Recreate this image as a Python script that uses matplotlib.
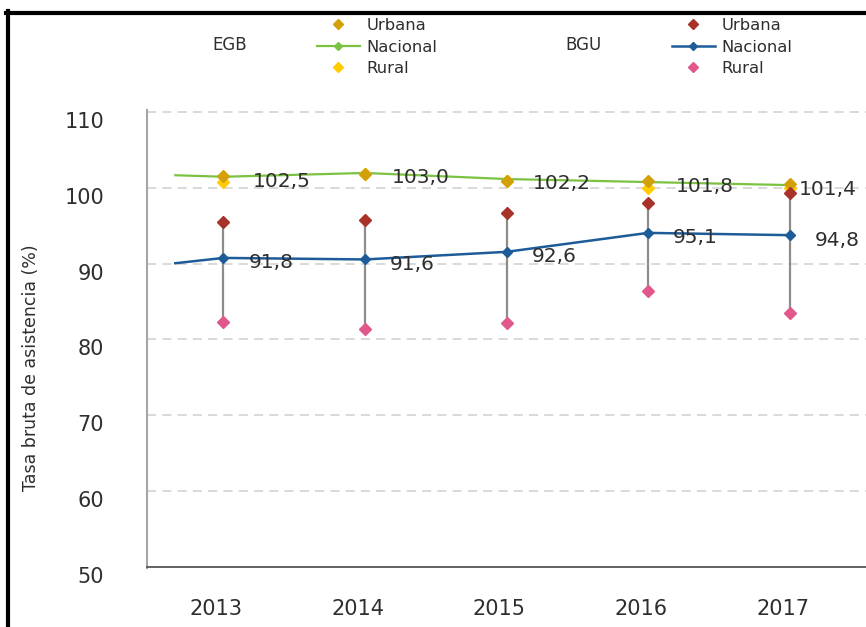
import matplotlib
matplotlib.use("Agg")
import matplotlib.pyplot as plt
import matplotlib.transforms as mtransforms
from matplotlib.lines import Line2D

# --- data --------------------------------------------------------------
years = [2013, 2014, 2015, 2016, 2017]

egb_nacional = [102.5, 103.0, 102.2, 101.8, 101.4]
egb_urbana = [102.6, 102.9, 102.0, 102.0, 101.6]
egb_rural = [101.8, 102.9, 102.0, 101.0, 101.0]

bgu_nacional = [91.8, 91.6, 92.6, 95.1, 94.8]
bgu_urbana = [96.5, 96.8, 97.7, 99.0, 100.3]
bgu_rural = [83.4, 82.4, 83.2, 87.4, 84.5]

# the national lines come in from the left (previous period)
lead_in_year = 2012.66
egb_nacional_prev = 102.7
bgu_nacional_prev = 91.1

egb_labels = ["102,5", "103,0", "102,2", "101,8", "101,4"]
bgu_labels = ["91,8", "91,6", "92,6", "95,1", "94,8"]

y_ticks = [50, 60, 70, 80, 90, 100, 110]

# --- styles ------------------------------------------------------------
c_egb_nac = "#7cc242"
c_egb_urb = "#d4a00a"
c_egb_rur = "#ffcc00"
c_bgu_nac = "#1d5c99"
c_bgu_urb = "#a8322a"
c_bgu_rur = "#e0588c"
c_range = "#8c8c8c"
c_text = "#2e2e2e"

plt.rcParams["font.family"] = ["DejaVu Sans"]

W, H, DPI = 866, 627, 100
fig = plt.figure(figsize=(W / DPI, H / DPI), dpi=DPI)
ax = fig.add_axes([147 / W, 1 - 575 / H, 719 / W, 465 / H])

ax.set_xlim(2012.46, 2017.54)
ax.set_ylim(50, 111.3)


def px(dx, dy):
    return mtransforms.ScaledTranslation(dx / DPI, dy / DPI, fig.dpi_scale_trans)


# dashed grid, drawn a few pixels above the tick values as in the source
grid_trans = ax.get_yaxis_transform() + px(0, 8)
for v in y_ticks[1:]:
    ax.add_line(Line2D([0, 1], [v, v], transform=grid_trans, color="#cfcfcf",
                       lw=1.1, ls=(0, (6, 4)), zorder=1, clip_on=False))

# EGB
ax.plot(years, egb_rural, ls="none", marker="D", ms=6.5, color=c_egb_rur, zorder=4)
ax.plot([lead_in_year] + years, [egb_nacional_prev] + egb_nacional,
        color=c_egb_nac, lw=1.6, marker="D", ms=4.5, markevery=list(range(1, 6)),
        zorder=3)
ax.plot(years, egb_urbana, ls="none", marker="D", ms=6.5, color=c_egb_urb, zorder=4)

# BGU
ax.vlines(years, bgu_rural, bgu_urbana, color=c_range, lw=1.6, zorder=2)
ax.plot([lead_in_year] + years, [bgu_nacional_prev] + bgu_nacional,
        color=c_bgu_nac, lw=1.8, marker="D", ms=5, markevery=list(range(1, 6)),
        zorder=5)
ax.plot(years, bgu_urbana, ls="none", marker="D", ms=6, color=c_bgu_urb, zorder=5)
ax.plot(years, bgu_rural, ls="none", marker="D", ms=6, color=c_bgu_rur, zorder=5)

# value labels
egb_dx = [29, 27, 26, 28, 9]
for x, y, s, dx in zip(years, egb_nacional, egb_labels, egb_dx):
    ax.annotate(s, (x, y), xytext=(dx * 0.72, -3.5), textcoords="offset points",
                ha="left", va="center", fontsize=14.5, color=c_text, zorder=6)
for x, y, s in zip(years, bgu_nacional, bgu_labels):
    ax.annotate(s, (x, y), xytext=(25 * 0.72, -3.5), textcoords="offset points",
                ha="left", va="center", fontsize=14.5, color=c_text, zorder=6)

# axes
for side in ("top", "right"):
    ax.spines[side].set_visible(False)
ax.spines["left"].set_color("#a6a6a6")
ax.spines["left"].set_linewidth(1.5)
ax.spines["left"].set_bounds(50.9, 111.3)
ax.spines["bottom"].set_position(("outward", -8 * 0.72))
ax.spines["bottom"].set_color("#555555")
ax.spines["bottom"].set_linewidth(1.3)

ax.set_yticks(y_ticks)
ax.set_xticks(years)
ax.tick_params(axis="y", length=0, pad=31, labelsize=15, labelcolor=c_text)
ax.tick_params(axis="x", length=0, pad=23, labelsize=15, labelcolor=c_text)
for lbl in ax.get_xticklabels():
    lbl.set_transform(lbl.get_transform() + px(-7, 0))

ax.set_ylabel("Tasa bruta de asistencia (%)", fontsize=12.5, color=c_text)
ax.yaxis.label.set(ha="center", va="center")
ax.yaxis.set_label_coords(-0.161, 0.445)


# legends
def diamond(color, ms=5):
    return Line2D([], [], ls="none", marker="D", ms=ms, color=color)


egb_handles = [diamond(c_egb_urb),
               Line2D([], [], color=c_egb_nac, lw=1.6, marker="D", ms=4),
               diamond(c_egb_rur)]
bgu_handles = [diamond(c_bgu_urb),
               Line2D([], [], color=c_bgu_nac, lw=1.8, marker="D", ms=4),
               diamond(c_bgu_rur)]
names = ["Urbana", "Nacional", "Rural"]
for handles, x_left, group, x_group in ((egb_handles, 317, "EGB", 212),
                                        (bgu_handles, 672, "BGU", 565)):
    fig.legend(handles, names, loc="upper left",
               bbox_to_anchor=(x_left / W, 1 - 18 / H), frameon=False,
               borderpad=0, borderaxespad=0, handlelength=2.6,
               handletextpad=0.4, labelspacing=0.4, fontsize=11.8,
               labelcolor=c_text)
    fig.text(x_group / W, 1 - 45 / H, group, ha="left", va="center",
             fontsize=12, color=c_text)

# black frame on top and left
fig.add_artist(Line2D([6 / W, 1], [1 - 13 / H, 1 - 13 / H], transform=fig.transFigure,
                      color="black", lw=3))
fig.add_artist(Line2D([8 / W, 8 / W], [0, 1 - 11 / H], transform=fig.transFigure,
                      color="black", lw=3))

fig.savefig("out.png", dpi=DPI)
